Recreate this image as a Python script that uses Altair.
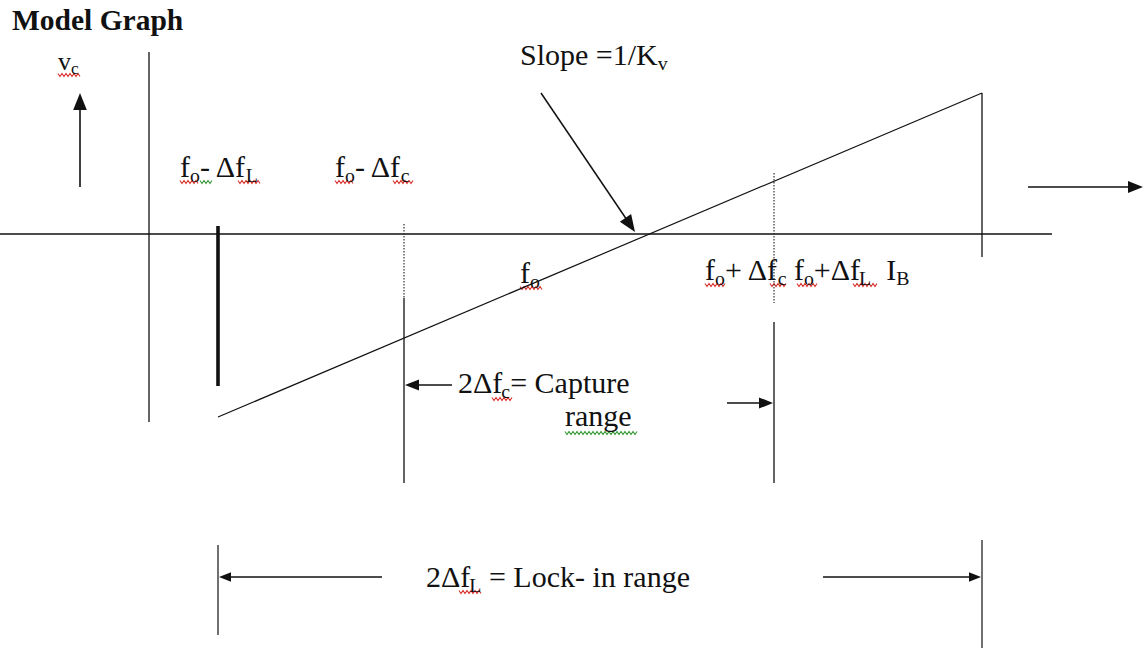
import altair as alt
import pandas as pd

# Drawing area in pixel units (y grows downward)
CW, CH = 1145, 650

# ---- solid line segments -------------------------------------------------
solid_x1 = [149, 0, 218, 218, 404, 774, 982, 218, 982, 80, 1028, 541, 452, 727, 382, 823]
solid_y1 = [52, 234, 226, 417, 298, 322, 93, 545, 540, 187, 187, 93, 385, 403, 577, 577]
solid_x2 = [149, 1052, 218, 982, 404, 774, 982, 218, 982, 80, 1132, 629, 414, 764, 228, 972]
solid_y2 = [422, 234, 386, 93, 483, 483, 257, 635, 648, 100, 187, 223, 385, 403, 577, 577]
solid_w = [1.3, 1.3, 3.6, 1.2, 1.3, 1.3, 1.3, 1.2, 1.2, 1.6, 1.6, 1.5, 1.6, 1.6, 1.6, 1.6]

# ---- dotted guide segments -------------------------------------------------
dot_x1 = [404, 774]
dot_y1 = [224, 173]
dot_x2 = [404, 774]
dot_y2 = [298, 303]

# ---- arrow heads: tip position, direction (deg, clockwise from +x), length --
head_x = [80, 1143, 635, 405, 773, 219, 981]
head_y = [93, 187, 232, 385, 403, 577, 577]
head_angle = [270, 0, 56, 180, 0, 180, 0]
head_len = [17, 15, 17, 14, 14, 12, 12]

# ---- text labels: runs of (text, is_subscript), left x, baseline y, size --
label_runs = [
    [("v", 0), ("c", 1)],
    [("f", 0), ("o", 1), ("- Δf", 0), ("L", 1)],
    [("f", 0), ("o", 1), ("- Δf", 0), ("c", 1)],
    [("Slope =1/K", 0), ("v", 1)],
    [("f", 0), ("o", 1)],
    [("f", 0), ("o", 1), ("+ Δf", 0), ("c", 1), (" f", 0), ("o", 1),
     ("+Δf", 0), ("L", 1), ("  I", 0), ("B", 1)],
    [("2Δf", 0), ("c", 1), ("= Capture", 0)],
    [("range", 0)],
    [("2Δf", 0), ("L", 1), (" = Lock- in range", 0)],
]
label_x = [58, 180, 335, 520, 520, 705, 458, 565, 426]
label_y = [70, 177, 177, 65, 283, 280, 393, 426, 587]
label_size = [26, 30, 30, 30, 30, 30, 30, 30, 30]

title_text = "Model Graph"

# ---- spell-check squiggles under words: x start, x end, y, colour --------
RED, GREEN = "#d8302c", "#3a9a3a"
squig_x0 = [58, 180, 200, 238, 335, 393, 520, 705, 770, 797, 853, 492, 565, 459]
squig_x1 = [80, 199, 213, 260, 353, 413, 542, 725, 787, 817, 877, 512, 637, 481]
squig_y = [75, 182, 182, 182, 182, 182, 288, 285, 285, 285, 285, 399, 433, 592]
squig_c = [RED, RED, GREEN, RED, RED, RED, RED, RED, RED, RED, RED, RED, GREEN, RED]

# Times-style advance widths (em) used to place subscript runs
ADV = {
    "f": .333, "o": .5, "-": .333, " ": .25, "Δ": .612, "L": .611, "c": .444,
    "+": .564, "2": .5, "=": .564, "S": .556, "l": .278, "p": .5, "e": .444,
    "1": .5, "/": .278, "K": .722, "v": .5, "I": .333, "B": .667, "C": .667,
    "a": .444, "t": .278, "u": .5, "r": .333, "n": .5, "g": .5, "k": .5,
    "i": .278,
}
SUB_SCALE, SUB_DROP = 0.66, 0.17

pieces = []
for runs, x0, y0, size in zip(label_runs, label_x, label_y, label_size):
    cx = x0
    for txt, sub in runs:
        s = size * SUB_SCALE if sub else size
        yy = y0 + size * SUB_DROP if sub else y0
        lead = len(txt) - len(txt.lstrip(" "))
        pieces.append({"text": txt.strip(" "), "x": cx + lead * ADV[" "] * s,
                       "y": yy, "size": s})
        cx += sum(ADV.get(ch, 0.5) for ch in txt) * s
pieces_df = pd.DataFrame(pieces)

solid_df = pd.DataFrame({"x": solid_x1, "y": solid_y1, "x2": solid_x2,
                         "y2": solid_y2, "w": solid_w})
dot_df = pd.DataFrame({"x": dot_x1, "y": dot_y1, "x2": dot_x2, "y2": dot_y2})
head_df = pd.DataFrame({"x": head_x, "y": head_y, "angle": head_angle,
                        "size": [L * L for L in head_len]})

squig_rows = []
for i, (a, b, yy, col) in enumerate(zip(squig_x0, squig_x1, squig_y, squig_c)):
    k = 0
    xx = a
    while xx <= b:
        squig_rows.append({"id": i, "k": k, "x": xx,
                           "y": yy + (1.5 if k % 2 else -1.5), "c": col})
        xx += 2
        k += 1
squig_df = pd.DataFrame(squig_rows)

X = alt.X("x:Q", scale=alt.Scale(domain=[0, CW], nice=False, zero=False), axis=None)
Y = alt.Y("y:Q", scale=alt.Scale(domain=[0, CH], nice=False, zero=False, reverse=True),
          axis=None)

solid = alt.Chart(solid_df).mark_rule(color="#111").encode(
    x=X, y=Y, x2="x2:Q", y2="y2:Q",
    strokeWidth=alt.StrokeWidth("w:Q", scale=None),
)

dotted = alt.Chart(dot_df).mark_rule(color="#333", strokeDash=[1.5, 1.5], strokeWidth=1.2).encode(
    x=X, y=Y, x2="x2:Q", y2="y2:Q",
)

heads = alt.Chart(head_df).mark_point(
    shape="M0,0L-2,-0.8L-2,0.8Z", filled=True, color="#111", opacity=1, strokeWidth=0
).encode(
    x=X, y=Y,
    angle=alt.Angle("angle:Q", scale=None),
    size=alt.Size("size:Q", scale=None),
)

squiggles = alt.Chart(squig_df).mark_line(strokeWidth=1.1, interpolate="linear").encode(
    x=X, y=Y, detail="id:N", order="k:Q",
    color=alt.Color("c:N", scale=None),
)

texts = alt.Chart(pieces_df).mark_text(
    font="Liberation Serif", align="left", baseline="alphabetic", color="#111"
).encode(
    x=X, y=Y, text="text:N",
    size=alt.Size("size:Q", scale=None),
)

title = alt.Chart(pd.DataFrame({"x": [12], "y": [30], "text": [title_text]})).mark_text(
    font="Liberation Serif", fontWeight="bold", fontSize=29.5, align="left",
    baseline="alphabetic", color="#111"
).encode(x=X, y=Y, text="text:N")

chart = alt.layer(squiggles, solid, dotted, heads, texts, title).properties(
    width=CW, height=CH, padding=0, autosize="none", background="white"
).configure_view(stroke=None)

chart.save("out.html", embed_options={"renderer": "svg", "actions": False})
